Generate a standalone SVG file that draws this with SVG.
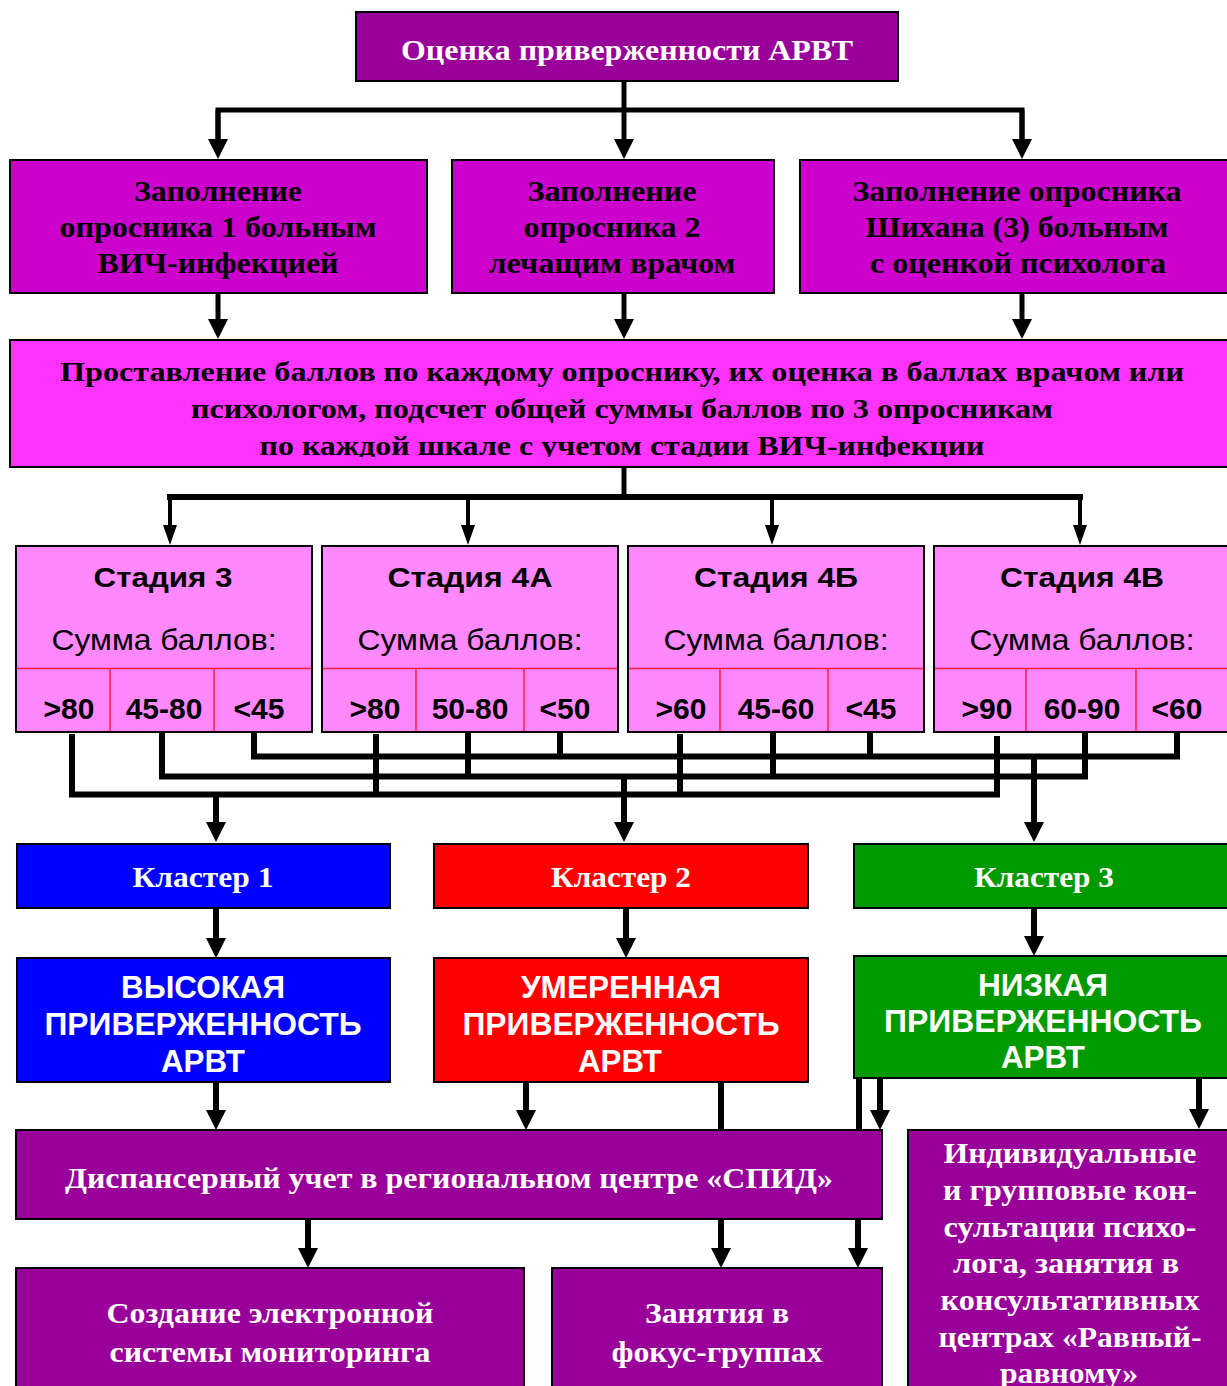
<svg xmlns="http://www.w3.org/2000/svg" width="1227" height="1386" viewBox="0 0 1227 1386">
<defs>
<style>
.box{stroke:#000;stroke-width:2}
.p1{fill:#990099}
.p2{fill:#CC00CC}
.p3{fill:#FF33FF}
.st{fill:#FF88FF}
.blue{fill:#0000FF}
.red{fill:#FF0000}
.green{fill:#009900}
.rl{stroke:#FF2040;stroke-width:1.5;fill:none}
.ser{font-family:"Liberation Serif","Times New Roman",serif;font-weight:bold;text-anchor:middle}
.sans{font-family:"Liberation Sans",Arial,sans-serif;text-anchor:middle}
.w{fill:#fff}
.k{fill:#000}
.ln{fill:none;stroke:#000;stroke-width:5;stroke-linejoin:miter}
.ln6{fill:none;stroke:#000;stroke-width:6;stroke-linejoin:miter}
.arr{fill:none;stroke:#000;stroke-width:5;marker-end:url(#ah)}
.arr6{fill:none;stroke:#000;stroke-width:6;marker-end:url(#ah)}
.arrt{fill:none;stroke:#000;stroke-width:4;marker-end:url(#aht)}
</style>
<marker id="ah" viewBox="0 0 20 20" refX="2" refY="10" markerWidth="20" markerHeight="20" markerUnits="userSpaceOnUse" orient="auto">
<path d="M0,0 L20,10 L0,20 z" fill="#000"/>
</marker>
<marker id="aht" viewBox="0 0 20 14" refX="2" refY="7" markerWidth="20" markerHeight="14" markerUnits="userSpaceOnUse" orient="auto">
<path d="M0,0 L20,7 L0,14 z" fill="#000"/>
</marker>
<clipPath id="bigclip"><rect x="11" y="341" width="1220" height="116"/></clipPath>
</defs>
<rect width="1227" height="1386" fill="#fff"/>

<g id="connectors">
<path class="ln" d="M218 141 V110 H1022 V141"/>
<path class="arr" d="M624 82 V141"/>
<path class="arr" d="M218 110 V141"/>
<path class="arr" d="M1022 110 V141"/>
<path class="arr" d="M218 293 V321"/>
<path class="arr" d="M624 293 V321"/>
<path class="arr" d="M1022 293 V321"/>
<path class="ln" d="M624 467 V497"/>
<path class="ln6" d="M167 497 H1083"/>
<path class="arrt" d="M170 497 V527"/>
<path class="arrt" d="M468 497 V527"/>
<path class="arrt" d="M772 497 V527"/>
<path class="arrt" d="M1080 497 V527"/>
<path class="ln6" d="M254 733 V756.5 H1177 V731"/>
<path class="ln6" d="M560 731 V756.5"/>
<path class="ln6" d="M870 731 V756.5"/>
<path class="ln6" d="M162 733 V776.5 H1085 V733"/>
<path class="ln6" d="M468 731 V776.5"/>
<path class="ln6" d="M773 733 V776.5"/>
<path class="ln6" d="M72 734 V794.5 H997 V736"/>
<path class="ln6" d="M376 734 V794.5"/>
<path class="ln6" d="M680 734 V794.5"/>
<path class="arr6" d="M216 794 V824"/>
<path class="arr6" d="M624 776 V824"/>
<path class="arr6" d="M1034 756 V824"/>
<path class="arr6" d="M216 908 V940"/>
<path class="arr6" d="M626 908 V940"/>
<path class="arr6" d="M1034 908 V938"/>
<path class="arr6" d="M216 1082 V1112"/>
<path class="arr6" d="M526 1082 V1112"/>
<path class="ln6" d="M721 1082 V1130"/>
<path class="ln6" d="M859 1078 V1130"/>
<path class="arr6" d="M880 1078 V1112"/>
<path class="arr6" d="M1199 1078 V1111"/>
<path class="arr6" d="M308 1219 V1250"/>
<path class="arr6" d="M721 1219 V1250"/>
<path class="arr6" d="M858 1219 V1250"/>
</g>

<g id="n-top">
<rect class="box p1" x="356" y="12" width="542" height="69"/>
<text class="ser w" x="627" y="60" font-size="30" textLength="452" lengthAdjust="spacingAndGlyphs">Оценка приверженности АРВТ</text>
</g>

<g id="n-q1">
<rect class="box p2" x="10" y="160" width="417" height="133"/>
<text class="ser k" font-size="30"><tspan x="218" y="201" textLength="168" lengthAdjust="spacingAndGlyphs">Заполнение</tspan><tspan x="218" y="237" textLength="317" lengthAdjust="spacingAndGlyphs">опросника 1 больным</tspan><tspan x="218" y="273" textLength="241" lengthAdjust="spacingAndGlyphs">ВИЧ-инфекцией</tspan></text>
</g>

<g id="n-q2">
<rect class="box p2" x="452" y="160" width="322" height="133"/>
<text class="ser k" font-size="30"><tspan x="612" y="201" textLength="169" lengthAdjust="spacingAndGlyphs">Заполнение</tspan><tspan x="612" y="237" textLength="177" lengthAdjust="spacingAndGlyphs">опросника 2</tspan><tspan x="612" y="273" textLength="247" lengthAdjust="spacingAndGlyphs">лечащим врачом</tspan></text>
</g>

<g id="n-q3">
<rect class="box p2" x="800" y="160" width="432" height="133"/>
<text class="ser k" font-size="30"><tspan x="1017" y="201" textLength="329" lengthAdjust="spacingAndGlyphs">Заполнение опросника</tspan><tspan x="1017" y="237" textLength="303" lengthAdjust="spacingAndGlyphs">Шихана (3) больным</tspan><tspan x="1018" y="273" textLength="296" lengthAdjust="spacingAndGlyphs">с оценкой психолога</tspan></text>
</g>

<g id="n-score">
<rect class="box p3" x="10" y="340" width="1222" height="127"/>
<g clip-path="url(#bigclip)">
<text class="ser k" font-size="28"><tspan x="622" y="381" textLength="1124" lengthAdjust="spacingAndGlyphs">Проставление баллов по каждому опроснику, их оценка в баллах врачом или</tspan><tspan x="622" y="418" textLength="862" lengthAdjust="spacingAndGlyphs">психологом, подсчет общей суммы баллов по 3 опросникам</tspan><tspan x="622" y="455" textLength="725" lengthAdjust="spacingAndGlyphs">по каждой шкале с учетом стадии ВИЧ-инфекции</tspan></text>
</g>
</g>

<g id="n-stage3">
<rect class="box st" x="16" y="546" width="296" height="186"/>
<path class="rl" d="M17 668.5 H311 M110 668.5 V731 M214 668.5 V731"/>
<text class="sans k" x="163" y="587" font-size="28" font-weight="bold" textLength="139" lengthAdjust="spacingAndGlyphs">Стадия 3</text>
<text class="sans k" x="164" y="650" font-size="29" textLength="225" lengthAdjust="spacingAndGlyphs">Сумма баллов:</text>
<text class="sans k" font-size="30" font-weight="bold" y="719"><tspan x="69">&gt;80</tspan><tspan x="164">45-80</tspan><tspan x="259">&lt;45</tspan></text>
</g>

<g id="n-stage4a">
<rect class="box st" x="322" y="546" width="296" height="186"/>
<path class="rl" d="M323 668.5 H617 M416 668.5 V731 M524 668.5 V731"/>
<text class="sans k" x="470" y="587" font-size="28" font-weight="bold" textLength="165" lengthAdjust="spacingAndGlyphs">Стадия 4А</text>
<text class="sans k" x="470" y="650" font-size="29" textLength="225" lengthAdjust="spacingAndGlyphs">Сумма баллов:</text>
<text class="sans k" font-size="30" font-weight="bold" y="719"><tspan x="375">&gt;80</tspan><tspan x="470">50-80</tspan><tspan x="565">&lt;50</tspan></text>
</g>

<g id="n-stage4b">
<rect class="box st" x="628" y="546" width="296" height="186"/>
<path class="rl" d="M629 668.5 H923 M720 668.5 V731 M828 668.5 V731"/>
<text class="sans k" x="776" y="587" font-size="28" font-weight="bold" textLength="164" lengthAdjust="spacingAndGlyphs">Стадия 4Б</text>
<text class="sans k" x="776" y="650" font-size="29" textLength="225" lengthAdjust="spacingAndGlyphs">Сумма баллов:</text>
<text class="sans k" font-size="30" font-weight="bold" y="719"><tspan x="681">&gt;60</tspan><tspan x="776">45-60</tspan><tspan x="871">&lt;45</tspan></text>
</g>

<g id="n-stage4v">
<rect class="box st" x="934" y="546" width="300" height="186"/>
<path class="rl" d="M935 668.5 H1233 M1026 668.5 V731 M1136 668.5 V731"/>
<text class="sans k" x="1082" y="587" font-size="28" font-weight="bold" textLength="164" lengthAdjust="spacingAndGlyphs">Стадия 4В</text>
<text class="sans k" x="1082" y="650" font-size="29" textLength="225" lengthAdjust="spacingAndGlyphs">Сумма баллов:</text>
<text class="sans k" font-size="30" font-weight="bold" y="719"><tspan x="987">&gt;90</tspan><tspan x="1082">60-90</tspan><tspan x="1177">&lt;60</tspan></text>
</g>

<g id="n-cluster1">
<rect class="box blue" x="17" y="844" width="373" height="64"/>
<text class="ser w" x="203" y="887" font-size="30" textLength="141" lengthAdjust="spacingAndGlyphs">Кластер 1</text>
</g>
<g id="n-cluster2">
<rect class="box red" x="434" y="844" width="374" height="64"/>
<text class="ser w" x="621" y="887" font-size="30" textLength="140" lengthAdjust="spacingAndGlyphs">Кластер 2</text>
</g>
<g id="n-cluster3">
<rect class="box green" x="854" y="844" width="380" height="64"/>
<text class="ser w" x="1044" y="887" font-size="30" textLength="140" lengthAdjust="spacingAndGlyphs">Кластер 3</text>
</g>

<g id="n-high">
<rect class="box blue" x="17" y="958" width="373" height="124"/>
<text class="sans w" font-size="31" font-weight="bold"><tspan x="203" y="998" textLength="164" lengthAdjust="spacingAndGlyphs">ВЫСОКАЯ</tspan><tspan x="203" y="1035" textLength="317" lengthAdjust="spacingAndGlyphs">ПРИВЕРЖЕННОСТЬ</tspan><tspan x="203" y="1072" textLength="84" lengthAdjust="spacingAndGlyphs">АРВТ</tspan></text>
</g>
<g id="n-medium">
<rect class="box red" x="434" y="958" width="374" height="124"/>
<text class="sans w" font-size="31" font-weight="bold"><tspan x="621" y="998" textLength="200" lengthAdjust="spacingAndGlyphs">УМЕРЕННАЯ</tspan><tspan x="621" y="1035" textLength="317" lengthAdjust="spacingAndGlyphs">ПРИВЕРЖЕННОСТЬ</tspan><tspan x="620" y="1072" textLength="84" lengthAdjust="spacingAndGlyphs">АРВТ</tspan></text>
</g>
<g id="n-low">
<rect class="box green" x="854" y="956" width="380" height="122"/>
<text class="sans w" font-size="31" font-weight="bold"><tspan x="1043" y="996" textLength="130" lengthAdjust="spacingAndGlyphs">НИЗКАЯ</tspan><tspan x="1043" y="1032" textLength="318" lengthAdjust="spacingAndGlyphs">ПРИВЕРЖЕННОСТЬ</tspan><tspan x="1043" y="1068" textLength="84" lengthAdjust="spacingAndGlyphs">АРВТ</tspan></text>
</g>

<g id="n-disp">
<rect class="box p1" x="16" y="1130" width="866" height="89"/>
<text class="ser w" x="449" y="1188" font-size="30" textLength="768" lengthAdjust="spacingAndGlyphs">Диспансерный учет в региональном центре «СПИД»</text>
</g>

<g id="n-monitor">
<rect class="box p1" x="16" y="1268" width="508" height="130"/>
<text class="ser w" font-size="30"><tspan x="270" y="1323" textLength="327" lengthAdjust="spacingAndGlyphs">Создание электронной</tspan><tspan x="270" y="1362" textLength="321" lengthAdjust="spacingAndGlyphs">системы мониторинга</tspan></text>
</g>

<g id="n-focus">
<rect class="box p1" x="552" y="1268" width="330" height="130"/>
<text class="ser w" font-size="30"><tspan x="717" y="1323" textLength="144" lengthAdjust="spacingAndGlyphs">Занятия в</tspan><tspan x="717" y="1362" textLength="211" lengthAdjust="spacingAndGlyphs">фокус-группах</tspan></text>
</g>

<g id="n-consult">
<rect class="box p1" x="908" y="1130" width="330" height="270"/>
<text class="ser w" font-size="30"><tspan x="1070" y="1163" textLength="253" lengthAdjust="spacingAndGlyphs">Индивидуальные</tspan><tspan x="1070" y="1200" textLength="254" lengthAdjust="spacingAndGlyphs">и групповые кон-</tspan><tspan x="1070" y="1237" textLength="253" lengthAdjust="spacingAndGlyphs">сультации психо-</tspan><tspan x="1066" y="1273" textLength="226" lengthAdjust="spacingAndGlyphs">лога, занятия в</tspan><tspan x="1070" y="1310" textLength="259" lengthAdjust="spacingAndGlyphs">консультативных</tspan><tspan x="1070" y="1347" textLength="263" lengthAdjust="spacingAndGlyphs">центрах «Равный-</tspan><tspan x="1069" y="1383" textLength="138" lengthAdjust="spacingAndGlyphs">равному»</tspan></text>
</g>
</svg>
